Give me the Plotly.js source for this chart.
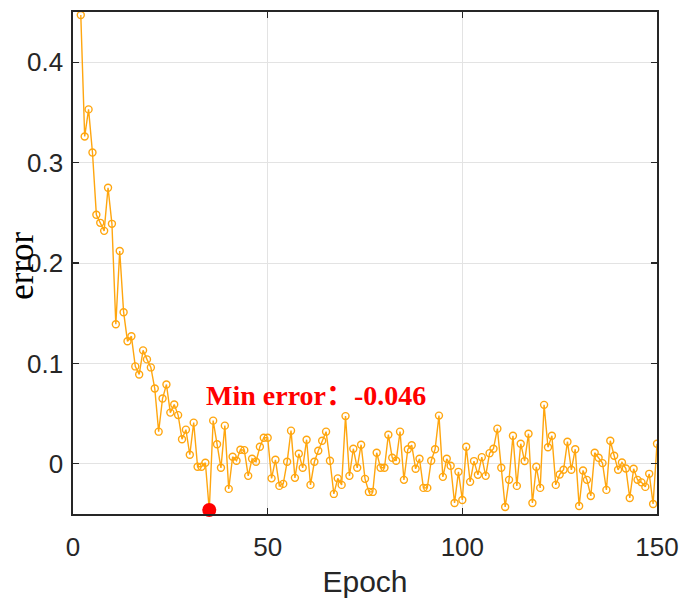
<!DOCTYPE html>
<html>
<head>
<meta charset="utf-8">
<script src="https://cdn.plot.ly/plotly-3.0.1.min.js"></script>
<style>
  html, body { margin: 0; padding: 0; background: #ffffff; }
  #chart { width: 685px; height: 607px; }
</style>
</head>
<body>
<div id="chart"></div>
<script>
// epochs 2..150, values
const epochs = [];
for (let e = 2; e <= 150; e++) epochs.push(e);

const errorValues = [
  0.447, 0.326, 0.353, 0.310, 0.248, 0.240, 0.232, 0.275, 0.239,          // 2-10
  0.139, 0.212, 0.151, 0.122, 0.127, 0.097, 0.089, 0.113, 0.104, 0.096,   // 11-20
  0.075, 0.032, 0.065, 0.079, 0.051, 0.059, 0.0485, 0.0245, 0.034, 0.009, // 21-30
  0.041, -0.003, -0.003, 0.001, -0.046, 0.043, 0.0195, -0.004, 0.038, -0.025, // 31-40
  0.007, 0.003, 0.014, 0.0136, -0.012, 0.005, 0.002, 0.017, 0.026, 0.026, // 41-50
  -0.0145, 0.004, -0.022, -0.020, 0.002, 0.033, -0.014, 0.010, -0.004, 0.024, // 51-60
  -0.021, 0.002, 0.013, 0.023, 0.032, 0.003, -0.030, -0.0145, -0.021, 0.0475, // 61-70
  -0.012, 0.015, -0.004, 0.019, -0.015, -0.028, -0.028, 0.011, -0.004, -0.004, // 71-80
  0.029, 0.006, 0.003, 0.032, -0.016, 0.0145, 0.0185, -0.005, 0.005, -0.024, // 81-90
  -0.024, 0.003, 0.0145, 0.048, -0.013, 0.005, -0.002, -0.039, -0.008, -0.036, // 91-100
  0.017, -0.018, 0.0027, -0.011, 0.0066, -0.012, 0.0106, 0.015, 0.035, -0.004, // 101-110
  -0.043, -0.016, 0.028, -0.022, 0.020, 0.0027, 0.030, -0.039, -0.003, -0.024, // 111-120
  0.0587, 0.0165, 0.028, -0.021, -0.0106, -0.006, 0.022, -0.006, 0.0145, -0.042, // 121-130
  -0.0066, -0.016, -0.032, 0.011, 0.006, 0.0007, -0.026, 0.023, 0.008, -0.006, // 131-140
  0.0013, -0.0047, -0.034, -0.005, -0.016, -0.0185, -0.023, -0.010, -0.040, 0.020 // 141-150
];

const minEpoch = [35];
const minError = [-0.046];
const xTicks = [0, 50, 100, 150];
const yTicks = [0, 0.1, 0.2, 0.3, 0.4];
const yTickText = ["0", "0.1", "0.2", "0.3", "0.4"];

const orange = "#FFA60F";
const axisColor = "#262626";
const serif = "Liberation Serif, Times New Roman, serif";

const traces = [
  {
    type: "scatter",
    mode: "lines+markers",
    x: epochs,
    y: errorValues,
    line: { color: orange, width: 1.4 },
    marker: { symbol: "circle-open", size: 7, color: orange, line: { color: orange, width: 1.4 } },
    showlegend: false
  },
  {
    type: "scatter",
    mode: "markers",
    x: minEpoch,
    y: minError,
    marker: { symbol: "circle", size: 14, color: "#FF0000" },
    cliponaxis: false,
    showlegend: false
  }
];

const axisBase = {
  ticks: "inside",
  ticklen: 6,
  tickcolor: axisColor,
  tickwidth: 1.2,
  showline: true,
  mirror: "ticks",
  linecolor: axisColor,
  linewidth: 1.6,
  showgrid: true,
  gridcolor: "#e3e3e3",
  gridwidth: 1,
  zeroline: false,
  tickfont: { size: 26, color: "#262626" }
};

const layout = {
  width: 685,
  height: 607,
  paper_bgcolor: "#ffffff",
  plot_bgcolor: "#ffffff",
  margin: { l: 73, r: 28, t: 12, b: 93 },
  font: { family: "Liberation Sans, Arial, sans-serif", size: 26, color: "#262626" },
  showlegend: false,
  xaxis: Object.assign({}, axisBase, {
    range: [0, 150],
    tickvals: xTicks,
    ticklabelstandoff: 9,
    title: { text: "Epoch", font: { size: 30, color: "#262626" }, standoff: 10 }
  }),
  yaxis: Object.assign({}, axisBase, {
    range: [-0.05, 0.45],
    tickvals: yTicks,
    ticktext: yTickText,
    ticklabelstandoff: 3
  }),
  annotations: [
    {
      // y axis title, placed by hand so it can sit against the tick labels
      x: -0.0895,
      y: 0.494,
      xref: "paper",
      yref: "paper",
      text: "error",
      textangle: -90,
      showarrow: false,
      font: { family: serif, size: 35, color: "#000000" },
      xanchor: "center",
      yanchor: "middle"
    },
    {
      x: 62.4,
      y: 0.0703,
      xref: "x",
      yref: "y",
      text: "<b>Min error<span style=\"font-family:'Noto Sans CJK SC'\">：</span>-0.046</b>",
      showarrow: false,
      font: { family: serif, size: 28, color: "#FF0000" },
      xanchor: "center",
      yanchor: "middle"
    }
  ]
};

Plotly.newPlot("chart", traces, layout, { displayModeBar: false, staticPlot: true });
</script>
</body>
</html>
